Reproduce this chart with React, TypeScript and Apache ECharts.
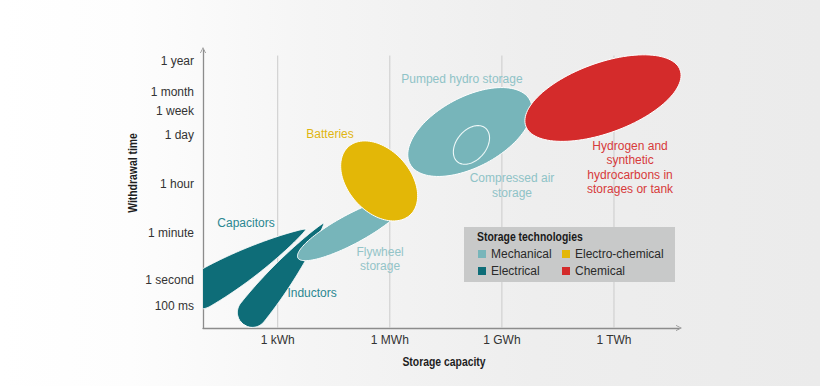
import React, { useEffect, useRef } from 'react';
import * as echarts from 'echarts';

// ---------------- data ----------------
const technologies = [
  'Capacitors',
  'Inductors',
  'Flywheel storage',
  'Batteries',
  'Pumped hydro storage',
  'Compressed air storage',
  'Hydrogen and synthetic hydrocarbons in storages or tank',
];
const labelTexts = [
  'Capacitors',
  'Inductors',
  'Flywheel\nstorage',
  'Batteries',
  'Pumped hydro storage',
  'Compressed air\nstorage',
  'Hydrogen and\nsynthetic\nhydrocarbons in\nstorages or tank',
];
const techCategory = ['Electrical', 'Electrical', 'Mechanical', 'Electro-chemical', 'Mechanical', 'Mechanical', 'Chemical'];
// major-axis end points of each area: capacity in log10(Wh), time on the chart's withdrawal-time scale
const capacityStart = [0.52, 2.07, 3.54, 4.89, 6.54, 7.81, 9.64];
const timeStart = [1.01, 0.14, 2.52, 6.52, 5.9, 5.98, 7.26];
const capacityEnd = [3.76, 4.24, 6.41, 6.54, 9.75, 8.56, 13.77];
const timeEnd = [3.56, 3.78, 4.6, 4.06, 8.2, 7.19, 9.28];

const legendColumn1 = ['Mechanical', 'Electrical'];
const legendColumn2 = ['Electro-chemical', 'Chemical'];
const drawOrder = ['Electrical', 'Mechanical', 'Electro-chemical', 'Chemical'];

const capacityTickValues = [3, 6, 9, 12];
const capacityTickLabels = ['1 kWh', '1 MWh', '1 GWh', '1 TWh'];
const timeTickValues = [0.78, 1.73, 3.41, 5.18, 6.95, 7.81, 8.5, 9.62];
const timeTickLabels = ['100 ms', '1 second', '1 minute', '1 hour', '1 day', '1 week', '1 month', '1 year'];

// ---------------- layout / style ----------------
const CAT_COLORS: Record<string, string> = {
  Mechanical: '#77b5ba',
  'Electro-chemical': '#e3b707',
  Electrical: '#0e6d78',
  Chemical: '#d42b2b',
};
const shapeLayout = [
  { form: 'drop', ratio: 0.26, clip: true, labelAt: [2.15, 3.78], labelColor: '#2b8791', lh: 14 },
  { form: 'drop', ratio: 0.23, clip: false, labelAt: [3.92, 1.26], labelColor: '#2b8791', lh: 14 },
  { form: 'ellipse', ratio: 0.24, clip: false, labelAt: [5.74, 2.48], labelColor: '#93c4c8', lh: 14 },
  { form: 'ellipse', ratio: 0.674, clip: false, labelAt: [4.4, 6.98], labelColor: '#e0b512', lh: 14 },
  { form: 'ellipse', ratio: 0.515, clip: false, labelAt: [7.93, 8.96], labelColor: '#8fc3c7', lh: 14 },
  { form: 'outline', ratio: 0.68, clip: false, labelAt: [9.27, 5.13], labelColor: '#8fc3c7', lh: 15 },
  { form: 'ellipse', ratio: 0.427, clip: false, labelAt: [12.43, 5.77], labelColor: '#d73a3b', lh: 14.3 },
];

const FONT = '"Liberation Sans", Arial, sans-serif';
const AXIS_COLOR = '#8c8c8c';
const ARROW = 'path://M0,10 L5,0 L10,10 L8.6,10 L5,2.6 L1.4,10 Z';
const GRID_TOP_TIME = 9.8;

function shapePoints(p0: number[], p1: number[], form: string, ratio: number) {
  const dx = p1[0] - p0[0];
  const dy = p1[1] - p0[1];
  const len = Math.hypot(dx, dy) || 1;
  const a = len / 2;
  const b = a * ratio;
  const cx = (p0[0] + p1[0]) / 2;
  const cy = (p0[1] + p1[1]) / 2;
  const c = dx / len;
  const s = dy / len;
  const pts: number[][] = [];
  const put = (u: number, v: number) => pts.push([cx + u * c - v * s, cy + u * s + v * c]);
  if (form === 'drop') {
    const N = 160;
    const s0 = Math.min(0.45, b / (2 * a));
    const half = (q: number) =>
      q < s0
        ? b * Math.sqrt(Math.max(0, 1 - (1 - q / s0) * (1 - q / s0)))
        : b * Math.pow(Math.cos((Math.PI / 2) * ((q - s0) / (1 - s0))), 0.8);
    for (let k = 0; k <= N; k++) {
      const q = k / N;
      put(-a + 2 * a * q, half(q));
    }
    for (let k = N; k >= 0; k--) {
      const q = k / N;
      put(-a + 2 * a * q, -half(q));
    }
  } else {
    const N = 120;
    for (let k = 0; k < N; k++) {
      const t = (2 * Math.PI * k) / N;
      put(a * Math.cos(t), b * Math.sin(t));
    }
  }
  return pts;
}

function labelFor(values: number[], labels: string[]) {
  return (v: number) => {
    const i = values.findIndex((x) => Math.abs(x - v) < 1e-6);
    return i >= 0 ? labels[i] : '';
  };
}

function legendColumn(data: string[], left: number) {
  return {
    data,
    orient: 'vertical',
    left,
    top: 247,
    padding: 0,
    itemWidth: 8,
    itemHeight: 8,
    itemGap: 3,
    icon: 'rect',
    selectedMode: false,
    z: 20,
    textStyle: { fontSize: 12, color: '#2a2a2a', lineHeight: 14, fontFamily: FONT },
  };
}

export default function App() {
  const ref = useRef<HTMLDivElement>(null);

  useEffect(() => {
    if (!ref.current) return;
    const chart = echarts.init(ref.current, null, { renderer: 'svg' });

    const areaSeries = drawOrder.map((cat) => ({
      type: 'custom',
      name: cat,
      z: 2,
      silent: true,
      itemStyle: { color: CAT_COLORS[cat] },
      encode: { x: [0, 2], y: [1, 3] },
      data: technologies
        .map((_, i) => i)
        .filter((i) => techCategory[i] === cat)
        .map((i) => [capacityStart[i], timeStart[i], capacityEnd[i], timeEnd[i], i]),
      renderItem: (params: any, api: any) => {
        const i = api.value(4);
        const lay = shapeLayout[i];
        const p0 = api.coord([api.value(0), api.value(1)]);
        const p1 = api.coord([api.value(2), api.value(3)]);
        const cs = params.coordSys;
        const color = CAT_COLORS[techCategory[i]];
        const poly: any = {
          type: 'polygon',
          shape: { points: shapePoints(p0, p1, lay.form, lay.ratio) },
          style:
            lay.form === 'outline'
              ? { fill: 'none', stroke: '#eef8f8', lineWidth: 1.1 }
              : { fill: color, stroke: '#ffffff', lineWidth: 1 },
        };
        if (lay.clip) {
          poly.clipPath = { type: 'rect', shape: { x: cs.x, y: cs.y, width: cs.width, height: cs.height } };
        }
        const lp = api.coord(lay.labelAt);
        const text = {
          type: 'text',
          x: lp[0],
          y: lp[1],
          style: {
            text: labelTexts[i],
            fill: lay.labelColor,
            fontSize: 12,
            fontFamily: FONT,
            align: 'center',
            verticalAlign: 'middle',
            lineHeight: lay.lh,
          },
        };
        return { type: 'group', children: [poly, text] };
      },
    }));

    const gridSeries = {
      type: 'custom',
      name: 'grid',
      z: 1,
      silent: true,
      encode: { x: 0, y: 1 },
      data: capacityTickValues.map((v) => [v, 0]),
      renderItem: (_p: any, api: any) => {
        const a = api.coord([api.value(0), 0]);
        const b = api.coord([api.value(0), GRID_TOP_TIME]);
        return {
          type: 'line',
          shape: { x1: a[0], y1: a[1], x2: b[0], y2: b[1] },
          style: { stroke: '#cbcbcb', lineWidth: 1 },
        };
      },
    };

    const boldTitle = (text: string, extra: any) => ({
      type: 'text',
      z: 11,
      scaleX: 0.8,
      style: {
        text,
        fill: '#1e1e1e',
        fontSize: 13,
        fontWeight: 'bold',
        fontFamily: FONT,
        verticalAlign: 'middle',
        ...extra.style,
      },
      ...extra.pos,
    });

    chart.setOption({
      animation: false,
      textStyle: { fontFamily: FONT },
      grid: { left: 203, right: 141, top: 50, bottom: 58, containLabel: false },
      xAxis: {
        type: 'value',
        min: 1,
        max: 13.74,
        axisLine: {
          show: true,
          symbol: ['none', ARROW],
          symbolSize: [8, 6],
          lineStyle: { color: AXIS_COLOR, width: 1.3 },
        },
        axisTick: { show: false },
        splitLine: { show: false },
        axisLabel: {
          customValues: capacityTickValues,
          formatter: labelFor(capacityTickValues, capacityTickLabels),
          color: '#333',
          fontSize: 12,
          margin: 6,
        },
      },
      yAxis: {
        type: 'value',
        min: 0,
        max: 10,
        axisLine: {
          show: true,
          symbol: ['none', ARROW],
          symbolSize: [8, 6],
          lineStyle: { color: AXIS_COLOR, width: 1.3 },
        },
        axisTick: { show: false },
        splitLine: { show: false },
        axisLabel: {
          customValues: timeTickValues,
          formatter: labelFor(timeTickValues, timeTickLabels),
          color: '#333',
          fontSize: 12,
          margin: 9,
        },
      },
      legend: [legendColumn(legendColumn1, 478), legendColumn(legendColumn2, 562)],
      graphic: [
        { type: 'rect', x: 464, y: 227, z: 10, shape: { width: 211, height: 55 }, style: { fill: '#c8c9c9' } },
        boldTitle('Storage technologies', { pos: { x: 477, y: 236 }, style: { align: 'left', fill: '#1a1a1a' } }),
        boldTitle('Withdrawal time', { pos: { x: 132, y: 173, rotation: Math.PI / 2 }, style: { align: 'center' } }),
        boldTitle('Storage capacity', { pos: { x: 444, y: 361 }, style: { align: 'center' } }),
      ],
      series: [gridSeries, ...areaSeries],
    });

    return () => chart.dispose();
  }, []);

  return (
    <div
      style={{
        position: 'fixed',
        left: 0,
        top: 0,
        width: 820,
        height: 386,
        background:
          'linear-gradient(90deg, #ffffff 0%, #fdfdfd 16%, #f5f5f5 38%, #eeeeee 65%, #ebebeb 100%)',
      }}
    >
      <div ref={ref} style={{ width: 820, height: 386 }} />
    </div>
  );
}
